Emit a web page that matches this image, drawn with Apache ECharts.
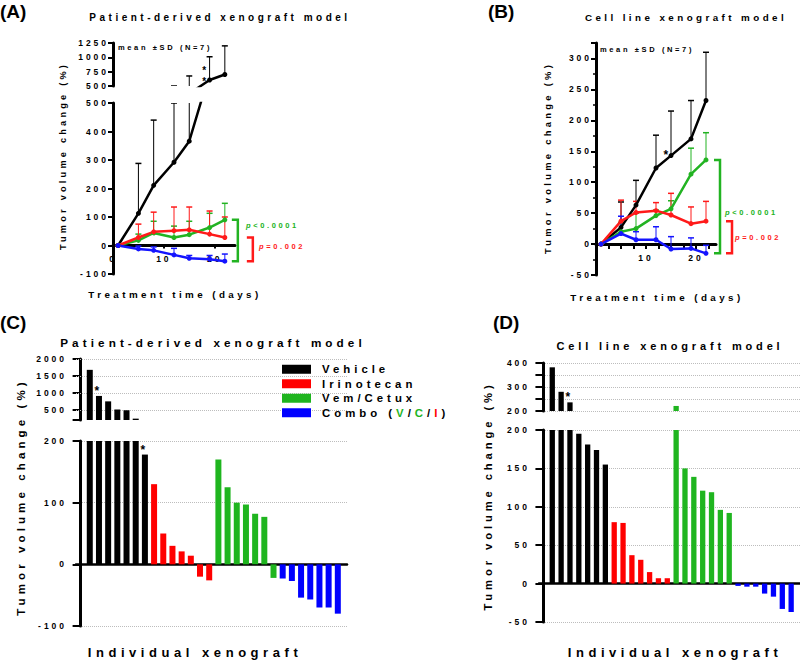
<!DOCTYPE html>
<html>
<head>
<meta charset="utf-8">
<title>Tumor volume change</title>
<script src="https://cdn.jsdelivr.net/npm/echarts@6/dist/echarts.min.js"></script>
<style>
  html, body { margin: 0; padding: 0; background: #fff; }
  #chart { width: 800px; height: 660px; }
  /* Prism-like tracking on all labels, panel letters excepted */
  #chart svg text { letter-spacing: 0.35em; }
  #chart svg text[style*="19px"] { letter-spacing: 0; }
</style>
</head>
<body>
<div id="chart"></div>
<script>
// ---- data ----------------------------------------------------------
const days = [1, 5, 8, 12, 15, 19, 22];
const groupNames = ['Vehicle', 'Irinotecan', 'Vem/Cetux', 'Combo (V/C/I)'];

// (A) patient-derived xenograft, mean and mean+SD (%)
const pdxVehicle = [0, 113, 211, 292, 366, 605, 700];
const pdxVehicleHi = [0, 288, 440, 500, 675, 1010, 1200];
const pdxIrino = [0, 28, 48, 52, 55, 40, 28];
const pdxIrinoHi = [0, 75, 117, 135, 135, 121, 100];
const pdxVemCet = [0, 18, 44, 28, 38, 63, 90];
const pdxVemCetHi = [0, 40, 85, 68, 85, 113, 148];
const pdxCombo = [0, -12, -17, -33, -45, -48, -55];
const pdxComboHi = [0, -2, -5, -10, -35, -35, -30];

// (B) cell line xenograft, mean and mean+SD (%)
const cdxVehicle = [0, 27, 63, 123, 143, 170, 232];
const cdxVehicleHi = [0, 68, 103, 176, 215, 232, 310];
const cdxIrino = [0, 37, 51, 54, 47, 33, 37];
const cdxIrinoHi = [0, 71, 69, 67, 82, 60, 69];
const cdxVemCet = [0, 20, 25, 46, 57, 113, 136];
const cdxVemCetHi = [0, 35, 50, 55, 70, 155, 180];
const cdxCombo = [0, 17, 7, 7, -8, -7, -15];
const cdxComboHi = [0, 45, 20, 28, 12, 10, -2];

// (C) waterfall, patient-derived
const pdxBarVehicle = [1680, 910, 750, 510, 490, 240, 178];
const pdxBarIrino = [130, 50, 30, 21, 14, -20, -26];
const pdxBarVemCet = [170, 125, 100, 97, 82, 77, -22];
const pdxBarCombo = [-23, -27, -54, -57, -70, -70, -80];
const pdxUpperTicks = [500, 1000, 1500, 2000];

// (D) waterfall, cell line
const cdxBarVehicle = [382, 280, 236, 195, 181, 174, 155];
const cdxBarIrino = [80, 79, 37, 31, 15, 7, 7];
const cdxBarVemCet = [221, 150, 139, 121, 119, 96, 92];
const cdxBarCombo = [-3, -4, -4, -13, -17, -33, -37];

// ---- styling --------------------------------------------------------
const FONT = "'Liberation Sans', Arial, sans-serif";
const TRACK = 0.35; // letter spacing in em, must match the css above
const lineColors = ['#000000', '#ff1a1a', '#22b322', '#1414ff'];
const barColors = ['#000000', '#ff0000', '#1fb51f', '#0000ff'];
const TICK_FS = 8.5;

const chart = echarts.init(document.getElementById('chart'), null, { renderer: 'svg' });

function errorBar(params, api) {
  const base = api.coord([api.value(0), api.value(1)]);
  const top = api.coord([api.value(0), api.value(2)]);
  const color = api.visual('color');
  return {
    type: 'group',
    children: [
      { type: 'line', shape: { x1: base[0], y1: base[1], x2: top[0], y2: top[1] }, style: { stroke: color, lineWidth: 1 } },
      { type: 'line', shape: { x1: top[0] - 3, y1: top[1], x2: top[0] + 3, y2: top[1] }, style: { stroke: color, lineWidth: 1.5 } }
    ]
  };
}

function trendSeries(grids, means, highs) {
  const out = [];
  [0, 2, 1, 3].forEach(g => {
    grids.forEach(gi => {
      out.push({
        type: 'custom', name: groupNames[g] + ' SD', xAxisIndex: gi, yAxisIndex: gi,
        clip: true, silent: true, z: 2, itemStyle: { color: lineColors[g] },
        data: days.map((d, i) => [d, means[g][i], highs[g][i]]),
        renderItem: errorBar
      });
      out.push({
        type: 'line', name: groupNames[g], xAxisIndex: gi, yAxisIndex: gi, clip: true, z: 3,
        data: days.map((d, i) => [d, means[g][i]]),
        symbol: 'circle', symbolSize: 5,
        lineStyle: { color: lineColors[g], width: 2.5 }, itemStyle: { color: lineColors[g] }
      });
    });
  });
  return out;
}

// p-value bracket between the last value of one group and the last of another
function bracket(grid, topVal, bottomVal, offset, color) {
  return {
    type: 'custom', xAxisIndex: grid, yAxisIndex: grid, clip: false, silent: true, z: 4,
    data: [[days[days.length - 1], topVal, bottomVal]],
    renderItem: (params, api) => {
      const a = api.coord([api.value(0), api.value(1)]);
      const b = api.coord([api.value(0), api.value(2)]);
      const x = a[0] + offset;
      return {
        type: 'polyline',
        shape: { points: [[x - 6, a[1]], [x, a[1]], [x, b[1]], [x - 6, b[1]]] },
        style: { stroke: color, lineWidth: 2.5, fill: null }
      };
    }
  };
}

const starLabel = { show: true, position: 'top', distance: -1, formatter: '*', color: '#000', fontSize: 12, fontWeight: 'bold' };

function barSeries(grid, g, values, stars, barWidth, extra) {
  return Object.assign({
    type: 'bar', name: groupNames[g], xAxisIndex: grid, yAxisIndex: grid,
    barWidth: barWidth, barGap: '-100%', z: 3,
    itemStyle: { color: barColors[g] },
    data: values.map((v, i) => ({
      value: [g * values.length + i + 1, v],
      label: stars.includes(i) ? starLabel : { show: false }
    }))
  }, extra || {});
}

const pdxMeans = [pdxVehicle, pdxIrino, pdxVemCet, pdxCombo];
const pdxHighs = [pdxVehicleHi, pdxIrinoHi, pdxVemCetHi, pdxComboHi];
const cdxMeans = [cdxVehicle, cdxIrino, cdxVemCet, cdxCombo];
const cdxHighs = [cdxVehicleHi, cdxIrinoHi, cdxVemCetHi, cdxComboHi];
const pdxBars = [pdxBarVehicle, pdxBarIrino, pdxBarVemCet, pdxBarCombo];
const cdxBars = [cdxBarVehicle, cdxBarIrino, cdxBarVemCet, cdxBarCombo];

const dottedSplit = { show: true, lineStyle: { type: 'dotted', color: '#bdbdbd', width: 1 } };
const plain = v => String(v);

function yAxis(grid, min, max, interval, opts) {
  const o = opts || {};
  return {
    type: 'value', gridIndex: grid, min: min, max: max, interval: interval,
    axisLine: { show: true, lineStyle: { color: '#000', width: 3 } },
    axisTick: Object.assign({ show: true, length: o.tickLen || 5, lineStyle: { color: '#000', width: 2 } }, o.tick || {}),
    minorTick: o.minorTick || { show: false },
    axisLabel: Object.assign({ color: '#000', fontSize: TICK_FS, fontWeight: 'bold', margin: o.margin || 4, formatter: plain }, o.label || {}),
    splitLine: o.split || { show: false }
  };
}

function hiddenX(grid, min, max) {
  return { type: 'value', gridIndex: grid, min: min, max: max, show: false, splitLine: { show: false } };
}

// time axis drawn through y = 0 (shifted up from the grid bottom)
function timeX(grid, yMin, yMax, height, tickVals, labelVals, tickLen) {
  return {
    type: 'value', gridIndex: grid, min: 0, max: 24,
    offset: -height * (0 - yMin) / (yMax - yMin),
    axisLine: { show: true, onZero: false, lineStyle: { color: '#000', width: 3 } },
    axisTick: { show: true, length: tickLen, customValues: tickVals, lineStyle: { color: '#000', width: 2 } },
    axisLabel: { color: '#000', fontSize: TICK_FS, fontWeight: 'bold', margin: 9, customValues: labelVals, formatter: plain },
    splitLine: { show: false }
  };
}

function barX(grid) {
  return {
    type: 'value', gridIndex: grid, min: -0.5, max: 29,
    axisLine: { show: true, onZero: true, lineStyle: { color: '#000', width: 2.5 } },
    axisTick: { show: false }, axisLabel: { show: false }, splitLine: { show: false }
  };
}

function txt(text, x, y, size, opts) {
  const o = opts || {};
  return {
    type: 'text', x: x, y: y, rotation: o.rotation || 0, silent: true,
    style: {
      text: text, fill: o.color || '#000', fontSize: size, fontWeight: 'bold',
      fontFamily: o.family || FONT, align: o.align || 'center', verticalAlign: o.valign || 'middle',
      lineHeight: o.lineHeight, rich: o.rich
    }
  };
}

const pRich = size => ({
  i: { fontStyle: 'italic', fontWeight: 'bold', fontSize: size, padding: [0, size * TRACK, 0, 0] },
  n: { fontWeight: 'bold', fontSize: size }
});

const gridBox = [
  { left: 113, top: 43, width: 122, height: 43 },   // A upper
  { left: 113, top: 103, width: 122, height: 171 }, // A lower
  { left: 596, top: 43, width: 120, height: 232 },  // B
  { left: 76, top: 359, width: 271, height: 61 },   // C upper
  { left: 76, top: 441, width: 271, height: 185 },  // C lower
  { left: 539, top: 363, width: 261, height: 48 },  // D upper
  { left: 539, top: 430, width: 261, height: 192 }  // D lower
];
const grids = gridBox.map(g => Object.assign({ outerBoundsMode: 'none', containLabel: false }, g));

const series = [];
// waterfall bars first so the legend takes its icons from them
[0, 1, 2, 3].forEach(g => {
  series.push(barSeries(3, g, pdxBars[g], g === 0 ? [1] : [], 6, g === 0 ? {
    markLine: {
      silent: true, symbol: 'none', label: { show: false }, z: 1,
      lineStyle: { type: 'dotted', color: '#bdbdbd', width: 1 },
      data: pdxUpperTicks.map(v => ({ yAxis: v }))
    }
  } : null));
  series.push(barSeries(4, g, pdxBars[g], g === 0 ? [6] : [], 6));
  series.push(barSeries(5, g, cdxBars[g], g === 0 ? [2] : [], 5.3));
  series.push(barSeries(6, g, cdxBars[g], [], 5.3));
});
series.push(...trendSeries([0, 1], pdxMeans, pdxHighs));
series.push(...trendSeries([2], cdxMeans, cdxHighs));
series.push(bracket(1, pdxVemCet[6], pdxCombo[6], 13, '#22b322'));
series.push(bracket(1, pdxIrino[6], pdxCombo[6], 28, '#ff1a1a'));
series.push(bracket(2, cdxVemCet[6], cdxCombo[6], 14, '#22b322'));
series.push(bracket(2, cdxIrino[6], cdxCombo[6], 26, '#ff1a1a'));

const LEG_FS = 11.4;
const legendText = { fontSize: LEG_FS, fontWeight: 'bold', fontFamily: FONT };
const legTrack = n => [0, n * LEG_FS * TRACK, 0, 0];

chart.setOption({
  animation: false,
  textStyle: { fontFamily: FONT },
  grid: grids,
  xAxis: [
    hiddenX(0, 0, 24),
    timeX(1, -100, 500, gridBox[1].height, [0, 10, 20], [0, 10, 20], 3),
    timeX(2, -50, 325, gridBox[2].height, [2.5, 5, 7.5, 10, 12.5, 15, 17.5, 20, 22.5], [10, 20], 5),
    hiddenX(3, -0.5, 29),
    barX(4),
    hiddenX(5, -0.5, 29),
    barX(6)
  ],
  yAxis: [
    yAxis(0, 500, 1250, 250),
    yAxis(1, -100, 500, 100),
    yAxis(2, -50, 325, 50, {
      minorTick: { show: true, splitNumber: 2, length: 3, lineStyle: { color: '#000', width: 1.5 } },
      label: { formatter: v => (v % 50 === 0 ? String(v) : '') }
    }),
    yAxis(3, 200, 2000, null, {
      tickLen: 8, margin: 9,
      tick: { customValues: [200].concat(pdxUpperTicks) },
      label: { customValues: pdxUpperTicks }
    }),
    yAxis(4, -100, 200, 100, { tickLen: 8, margin: 9, split: dottedSplit }),
    yAxis(5, 200, 400, 50, {
      tickLen: 8, margin: 9, split: dottedSplit,
      label: { formatter: v => (v % 100 === 0 ? String(v) : '') }
    }),
    yAxis(6, -50, 200, 50, { tickLen: 8, margin: 9, split: dottedSplit })
  ],
  legend: {
    orient: 'vertical', left: 277, top: 357, icon: 'rect',
    itemWidth: 29, itemHeight: 9, itemGap: 0, selectedMode: false,
    data: groupNames,
    textStyle: Object.assign({
      color: '#000', lineHeight: 14.5, padding: [0, 0, 0, 6],
      rich: {
        a: Object.assign({ color: '#000', padding: legTrack(7) }, legendText),
        s: Object.assign({ color: '#000', padding: legTrack(1) }, legendText),
        g: Object.assign({ color: '#1fb51f', padding: legTrack(1) }, legendText),
        r: Object.assign({ color: '#ff0000', padding: legTrack(1) }, legendText)
      }
    }, legendText),
    formatter: name => name === groupNames[3]
      ? '{a|Combo (}{g|V}{s|/}{g|C}{s|/}{r|I}{s|)}'
      : name
  },
  graphic: [
    txt('(A)', 0, 2, 19, { align: 'left', valign: 'top', family: "'Liberation Sans Narrow', " + FONT }),
    txt('(B)', 488, 2, 19, { align: 'left', valign: 'top', family: "'Liberation Sans Narrow', " + FONT }),
    txt('(C)', 0, 313, 19, { align: 'left', valign: 'top', family: "'Liberation Sans Narrow', " + FONT }),
    txt('(D)', 493, 313, 19, { align: 'left', valign: 'top', family: "'Liberation Sans Narrow', " + FONT }),
    txt('Patient-derived xenograft model', 220, 17, 10),
    txt('Cell line xenograft model', 686, 17, 9.8),
    txt('Patient-derived xenograft model', 213, 342, 11.7),
    txt('Cell line xenograft model', 670, 346, 11),
    txt('mean ±SD (N=7)', 118, 47, 7.5, { align: 'left' }),
    txt('mean ±SD (N=7)', 600, 49, 7.5, { align: 'left' }),
    txt('Tumor volume change (%)', 63, 156, 9.2, { rotation: Math.PI / 2 }),
    txt('Tumor volume change (%)', 547, 158, 9.4, { rotation: Math.PI / 2 }),
    txt('Tumor volume change (%)', 20, 497, 11.6, { rotation: Math.PI / 2 }),
    txt('Tumor volume change (%)', 488, 496, 11.2, { rotation: Math.PI / 2 }),
    txt('Treatment time (days)', 175, 294, 9.8),
    txt('Treatment time (days)', 657, 297, 9.8),
    txt('Individual xenograft', 195, 652, 13),
    txt('Individual xenograft', 675, 652, 13),
    txt('{i|p}{n|<0.0001}', 246, 225, 7.5, { align: 'left', color: '#22b322', rich: pRich(7.5) }),
    txt('{i|p}{n|=0.002}', 259, 246, 7.5, { align: 'left', color: '#ff1a1a', rich: pRich(7.5) }),
    txt('{i|p}{n|<0.0001}', 725, 212, 7.5, { align: 'left', color: '#22b322', rich: pRich(7.5) }),
    txt('{i|p}{n|=0.002}', 735, 237, 7.5, { align: 'left', color: '#ff1a1a', rich: pRich(7.5) }),
    txt('*\n*', 206, 76, 10, { lineHeight: 10.5 }),
    txt('*', 668, 155, 12)
  ],
  series: series
});
</script>
</body>
</html>
